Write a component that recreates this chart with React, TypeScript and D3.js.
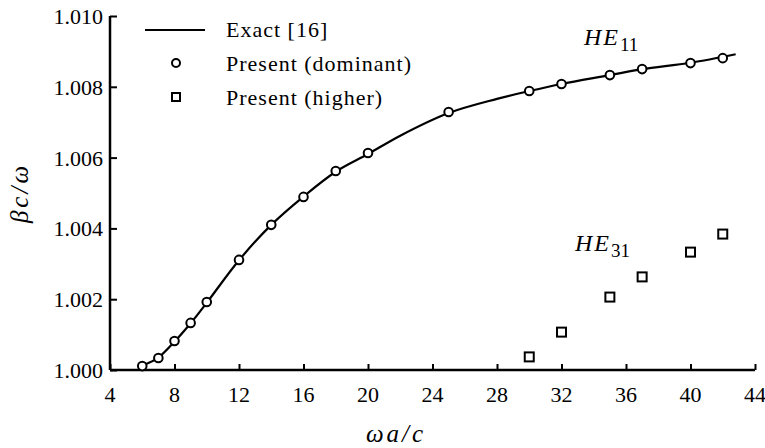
import React, { useEffect, useRef } from 'react'
import * as d3 from 'd3'

// omega a / c values and beta c / omega
const dominantX = [6, 7, 8, 9, 10, 12, 14, 16, 18, 20, 25, 30, 32, 35, 37, 40, 42]
const dominantY = [1.00011, 1.00034, 1.00082, 1.00133, 1.00192, 1.00311, 1.0041, 1.00489, 1.00562, 1.00613, 1.00729, 1.00788, 1.00808, 1.00833, 1.0085, 1.00867, 1.00881]

const higherX = [30, 32, 35, 37, 40, 42]
const higherY = [1.00037, 1.00107, 1.00206, 1.00263, 1.00333, 1.00384]

const exactX = [5.8, 6, 7, 8, 9, 10, 12, 14, 16, 18, 20, 22, 25, 28, 30, 32, 35, 37, 40, 42.8]
const exactY = [1.0, 1.0001, 1.00035, 1.0008, 1.00132, 1.0019, 1.0031, 1.0041, 1.0049, 1.0056, 1.0061, 1.00662, 1.00726, 1.00766, 1.00788, 1.00808, 1.00833, 1.0085, 1.00868, 1.00892]

const xTicks = [4, 8, 12, 16, 20, 24, 28, 32, 36, 40, 44]
const yTicks = [1.0, 1.002, 1.004, 1.006, 1.008, 1.01]

const legendLabels = ['Exact [16]', 'Present (dominant)', 'Present (higher)']

const W = 765
const H = 448
const serif = '"Times New Roman", "Liberation Serif", Times, "DejaVu Serif", serif'

export default function App() {
  const ref = useRef<SVGSVGElement>(null)

  useEffect(() => {
    const svg = d3.select(ref.current)
    svg.selectAll('*').remove()

    const x = d3.scaleLinear().domain([4, 44]).range([110, 755])
    const y = d3.scaleLinear().domain([1.0, 1.01]).range([370, 16])

    // axes, ticks pointing inward
    const xAxis = svg.append('g').attr('transform', `translate(0,${y(1.0)})`)
      .call(d3.axisTop(x).tickValues(xTicks).tickSize(6).tickFormat(() => ''))
    xAxis.select('.domain').attr('stroke', '#000').attr('stroke-width', 2.5).attr('d', `M${x(4)},0H${x(44)}`)
    xAxis.selectAll('.tick line').attr('stroke', '#000').attr('stroke-width', 2)

    const yAxis = svg.append('g').attr('transform', `translate(${x(4)},0)`)
      .call(d3.axisRight(y).tickValues(yTicks).tickSize(7).tickFormat(() => ''))
    yAxis.select('.domain').attr('stroke', '#000').attr('stroke-width', 2.5).attr('d', `M0,${y(1.01)}V${y(1.0)}`)
    yAxis.selectAll('.tick line').attr('stroke', '#000').attr('stroke-width', 2)

    svg.append('g').selectAll('text').data(xTicks).join('text')
      .attr('x', d => x(d)).attr('y', 402)
      .attr('text-anchor', 'middle')
      .attr('font-family', serif).attr('font-size', 22)
      .text(d => d)

    svg.append('g').selectAll('text').data(yTicks).join('text')
      .attr('x', 103).attr('y', d => y(d) + 8)
      .attr('text-anchor', 'end')
      .attr('font-family', serif).attr('font-size', 22)
      .text(d => d3.format('.3f')(d))

    // axis titles
    svg.append('text')
      .attr('x', 396).attr('y', 442)
      .attr('text-anchor', 'middle')
      .attr('font-family', serif).attr('font-size', 25).attr('font-style', 'italic')
      .attr('letter-spacing', 3)
      .text('ωa/c')

    svg.append('text')
      .attr('transform', `translate(28,${y(1.005)}) rotate(-90)`)
      .attr('text-anchor', 'middle')
      .attr('font-family', serif).attr('font-size', 25).attr('font-style', 'italic')
      .attr('letter-spacing', 3)
      .text('βc/ω')

    // exact curve
    const line = d3.line<number>()
      .x(i => x(exactX[i]))
      .y(i => y(exactY[i]))
      .curve(d3.curveCatmullRom.alpha(0.5))
    svg.append('path')
      .attr('d', line(d3.range(exactX.length)))
      .attr('fill', 'none').attr('stroke', '#000').attr('stroke-width', 2.2)

    // present (dominant)
    svg.append('g').selectAll('circle').data(dominantX).join('circle')
      .attr('cx', d => x(d)).attr('cy', (d, i) => y(dominantY[i]))
      .attr('r', 4.3)
      .attr('fill', '#fff').attr('stroke', '#000').attr('stroke-width', 2)

    // present (higher)
    svg.append('g').selectAll('rect').data(higherX).join('rect')
      .attr('x', d => x(d) - 4.5).attr('y', (d, i) => y(higherY[i]) - 4.5)
      .attr('width', 9).attr('height', 9)
      .attr('fill', '#fff').attr('stroke', '#000').attr('stroke-width', 2)

    // mode labels
    const mode = (lx: number, ly: number, sub: string) => {
      const t = svg.append('text')
        .attr('x', lx).attr('y', ly)
        .attr('font-family', serif).attr('font-size', 24)
      t.append('tspan').attr('font-style', 'italic').attr('letter-spacing', 2).text('HE')
      t.append('tspan').attr('font-size', 19).attr('dy', 6).text(sub)
    }
    mode(584, 45, '11')
    mode(575, 251, '31')

    // legend
    const lg = svg.append('g')
    lg.append('line').attr('x1', 145).attr('x2', 205).attr('y1', 30).attr('y2', 30)
      .attr('stroke', '#000').attr('stroke-width', 2)
    lg.append('circle').attr('cx', 176).attr('cy', 63).attr('r', 4)
      .attr('fill', '#fff').attr('stroke', '#000').attr('stroke-width', 2)
    lg.append('rect').attr('x', 172).attr('y', 93).attr('width', 8).attr('height', 8)
      .attr('fill', '#fff').attr('stroke', '#000').attr('stroke-width', 2)
    lg.selectAll('text').data(legendLabels).join('text')
      .attr('x', 226).attr('y', (d, i) => 37 + i * 34)
      .attr('font-family', serif).attr('font-size', 22)
      .attr('letter-spacing', 1)
      .text(d => d)
  }, [])

  return (
    <svg ref={ref} width={W} height={H} style={{ position: 'absolute', left: 0, top: 0, background: '#fff' }} />
  )
}
